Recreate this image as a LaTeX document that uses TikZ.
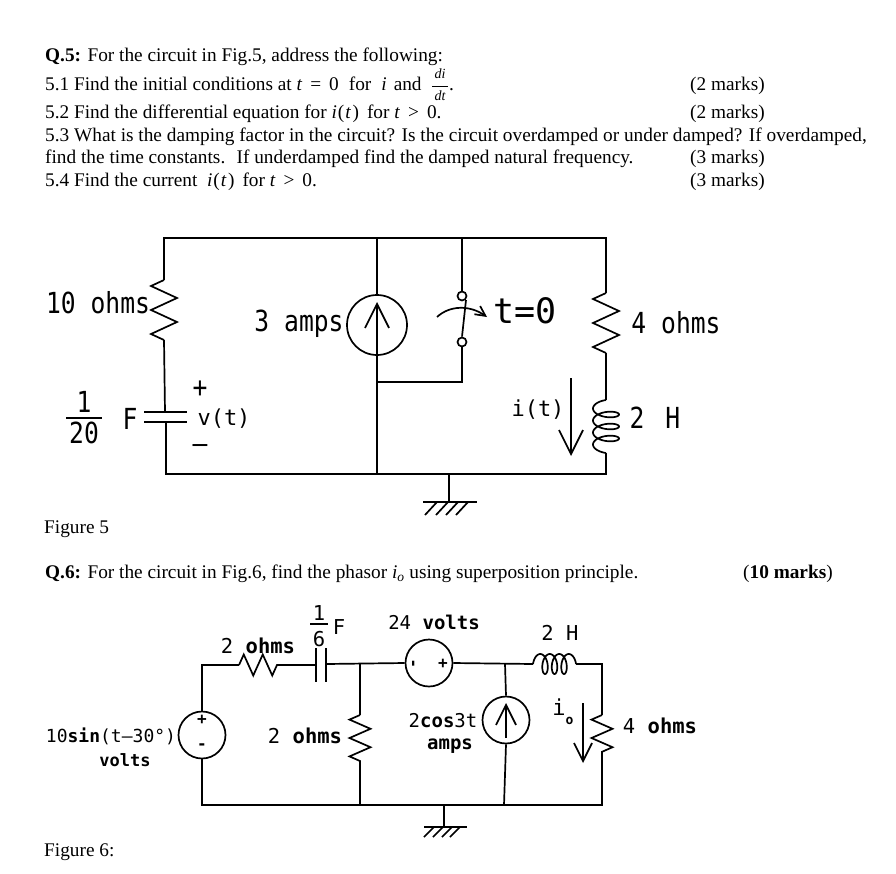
\documentclass[tikz,border=0pt]{standalone}
\usepackage{fontspec}
\setmainfont{Liberation Serif}
\newfontfamily\cadfont{DejaVu Sans Mono}
\newfontfamily\cadtall[FakeStretch=0.85]{DejaVu Sans Mono}
\newcommand{\tvar}{\textit{t}}
\newcommand{\ivar}{\textit{i}}
\newcommand{\ifunc}{\ivar\kern1pt(\kern1pt\tvar\kern1.5pt)}
\newcommand{\relgap}{\hspace{8pt}}
\usetikzlibrary{calc,arrows.meta,decorations.pathmorphing}
\tikzset{
    textline/.style={anchor=base west, inner sep=0pt, font=\fontsize{19.3}{21}\selectfont},
    fracpart/.style={inner sep=0pt, font=\fontsize{14}{14}\selectfont\itshape},
    biglabel/.style={inner sep=0pt, font=\cadtall\fontsize{29}{31}\selectfont},
    midlabel/.style={inner sep=0pt, font=\cadfont\fontsize{22}{24}\selectfont},
    smalllabel/.style={inner sep=0pt, font=\cadfont\fontsize{20.5}{22}\selectfont},
    tightlabel/.style={inner sep=0pt, font=\cadfont\fontsize{19}{20}\selectfont},
    signlabel/.style={inner sep=0pt, font=\cadfont\bfseries\fontsize{16}{16}\selectfont},
    wire/.style={draw=black, line width=1.7pt},
    thinrule/.style={draw=black, line width=0.8pt},
    resv/.style={wire, decorate, decoration={zigzag, segment length=24, amplitude=13, mirror}},
    resvs/.style={wire, decorate, decoration={zigzag, segment length=18.4, amplitude=10.5, mirror}},
    resh/.style={wire, decorate, decoration={zigzag, segment length=19, amplitude=10.5}},
    srcnode/.style={circle, draw=black, line width=1.7pt, inner sep=0pt},
    termnode/.style={circle, draw=black, line width=1.7pt, inner sep=0pt, minimum size=9pt},
    barb/.style={wire, -{Straight Barb[length=#1, width=#1, line width=1.7pt]}}
}
\begin{document}
\begin{tikzpicture}[x=1pt, y=-1pt]
    \useasboundingbox (0,0) rectangle (896,873);

    % Questions
    \node[textline] (qfive) at (45,61) {\textbf{Q.5:} For the circuit in Fig.5, address the following:};
    \node[textline] (lineone) at (45,90) {5.1 Find the initial conditions at \tvar\relgap=\relgap 0\hspace{10pt}for\hspace{10pt}\ivar\hspace{7pt}and};
    \node[fracpart] (fracdi) at (440,74) {di};
    \node[fracpart] (fracdt) at (440,96) {dt};
    \draw[thinrule] (432,86) -- (448,86);
    \node[textline] (fracdot) at (449,90) {.};
    \node[textline] (linetwo) at (45,118) {5.2 Find the differential equation for \ifunc\hspace{8pt}for \tvar\relgap>\relgap 0.};
    \node[textline] (linethree) at (45,141) {5.3 What is the damping factor in the circuit? Is the circuit overdamped or under damped? If overdamped,};
    \node[textline] (linefour) at (45,163) {find the time constants. \ If underdamped find the damped natural frequency.};
    \node[textline] (linefive) at (45,186) {5.4 Find the current \ \ifunc\hspace{8pt}for \tvar\relgap>\relgap 0.};
    \node[textline] (markone) at (690,90) {(2 marks)};
    \node[textline] (marktwo) at (690,118) {(2 marks)};
    \node[textline] (markfour) at (690,163) {(3 marks)};
    \node[textline] (markfive) at (690,186) {(3 marks)};
    \node[textline] (capfive) at (44,533) {Figure 5};
    \node[textline] (qsix) at (45,578) {\textbf{Q.6:} For the circuit in Fig.6, find the phasor \textit{i\textsubscript{o}} using superposition principle.};
    \node[textline] (marksix) at (743,578) {(\textbf{10 marks})};
    \node[textline] (capsix) at (44,856) {Figure 6:};

    % Figure 5: points
    \coordinate (atl) at (164,238);
    \coordinate (atm) at (377,238);
    \coordinate (ats) at (462,238);
    \coordinate (atr) at (606,238);
    \coordinate (abl) at (166,474);
    \coordinate (abm) at (377,474);
    \coordinate (abg) at (449,474);
    \coordinate (abr) at (606,474);
    \coordinate (rtena) at (164,280);
    \coordinate (rtenb) at (164,340);
    \coordinate (ctop) at (165,412);
    \coordinate (cbot) at (166,422);
    \coordinate (rfoura) at (606,293);
    \coordinate (rfourb) at (606,353);
    \coordinate (lta) at (606,400);
    \coordinate (ltb) at (606,453);
    \coordinate (swb) at (462,382);
    \coordinate (swm) at (377,382);
    \coordinate (gfive) at (449,502);
    \node[srcnode, minimum size=60pt] (amps) at (377,325) {};
    \node[termnode] (swt) at (462,296) {};
    \node[termnode] (swl) at (462,342) {};

    % Figure 5: wires
    \draw[wire] (rtena) -- (atl) -- (atr) -- (rfoura);
    \draw[resv] (rtena) -- (rtenb);
    \draw[wire] (rtenb) -- (ctop);
    \draw[wire] (144,412) -- (187,412);
    \draw[wire] (144,422) -- (187,422);
    \draw[wire] (cbot) -- (abl) -- (abr) -- (ltb);
    \draw[wire] (atm) -- (amps.north);
    \draw[wire] (amps.south) -- (abm);
    \draw[barb=24pt] (amps.south) -- (377,302);
    \draw[wire] (ats) -- (swt.north);
    \draw[wire] (swl.south) -- (swb) -- (swm);
    \draw[wire] (swl.north) -- (466,300);
    \draw[barb=10pt] (437,317) .. controls (450,305) and (470,305) .. (487,317);
    \draw[resv] (rfoura) -- (rfourb);
    \draw[wire] (rfourb) -- (lta);
    % coil drawn as a trochoid
    \draw[wire] plot[domain=0:1260, samples=120, smooth, variable=\t]
        ({606-13*sin(\t)}, {405.5+\t*12/360-5.5*cos(\t)});
    \draw[barb=24pt] (571,378) -- (571,456);
    \draw[wire] (abg) -- (gfive);
    \draw[wire] ($(gfive)+(-26,0)$) -- ($(gfive)+(28,0)$);
    \foreach \dx in {-12,-1,9,19} {
        \draw[wire] ($(gfive)+(\dx,0)$) -- ($(gfive)+(\dx-12,13)$);
    }

    % Figure 5: labels
    \node[biglabel] (ltenohm) at (98,303) {10 ohms};
    \node[biglabel] (lamps) at (299,324) {3 amps};
    \node[inner sep=0pt, font=\cadfont\fontsize{35}{37}\selectfont] (lswitch) at (525,311) {t=0};
    \node[biglabel] (lfourohm) at (676,323) {4 ohms};
    \node[biglabel] (lhenry) at (655,418) {2 \kern6pt H};
    \node[midlabel] (lcurrent) at (538,410) {i(t)};
    \node[biglabel] (lone) at (84,402) {1};
    \node[biglabel] (ltwenty) at (84,433) {20};
    \draw[wire] (66,418) -- (102,418);
    \node[biglabel] (lfarad) at (130,419) {F};
    \node[biglabel] (lplus) at (200,389) {+};
    \node[midlabel] (lvolt) at (224,419) {v(t)};
    \node[biglabel] (lminus) at (200,449) {–};

    % Figure 6: points
    \coordinate (btl) at (202,665);
    \coordinate (bbl) at (202,805);
    \coordinate (bbr) at (602,805);
    \coordinate (btr) at (602,664);
    \coordinate (rtwoa) at (239,665);
    \coordinate (rtwob) at (286,665);
    \coordinate (cleft) at (316,665);
    \coordinate (cright) at (326,664);
    \coordinate (bjl) at (360,664);
    \coordinate (bbj) at (360,805);
    \coordinate (rshua) at (360,715);
    \coordinate (rshub) at (360,761);
    \coordinate (bjr) at (505,664);
    \coordinate (bbs) at (504,805);
    \coordinate (lha) at (533,664);
    \coordinate (lhb) at (576,664);
    \coordinate (rloada) at (602,715);
    \coordinate (rloadb) at (602,760);
    \coordinate (bbg) at (444,805);
    \coordinate (gsix) at (444,827);
    \node[srcnode, minimum size=47pt] (vsin) at (202,735) {};
    \node[srcnode, minimum size=47pt] (vdc) at (429,663) {};
    \node[srcnode, minimum size=47pt] (icos) at (506,720) {};

    % Figure 6: wires
    \draw[wire] (vsin.north) -- (btl) -- (rtwoa);
    \draw[resh] (rtwoa) -- (rtwob);
    \draw[wire] (rtwob) -- (cleft);
    \draw[wire] (316,648) -- (316,682);
    \draw[wire] (326,648) -- (326,682);
    \draw[wire] (cright) -- (vdc.west);
    \draw[wire] (vdc.east) -- (lha);
    \draw[wire] plot[domain=0:1260, samples=120, smooth, variable=\t]
        ({537.9+\t*9.5/360-4.9*cos(\t)}, {664-10*sin(\t)});
    \draw[wire] (lhb) -- (btr) -- (rloada);
    \draw[resvs] (rloada) -- (rloadb);
    \draw[wire] (rloadb) -- (bbr) -- (bbl) -- (vsin.south);
    \draw[wire] (bjl) -- (rshua);
    \draw[resvs] (rshua) -- (rshub);
    \draw[wire] (rshub) -- (bbj);
    \draw[wire] (bjr) -- (icos.north);
    \draw[wire] (icos.south) -- (bbs);
    \draw[barb=20pt] (506,738) -- (icos.north |- 0,703);
    \draw[barb=18pt] (583,703) -- (583,763);
    \draw[wire] (bbg) -- (gsix);
    \draw[wire] ($(gsix)+(-20,0)$) -- ($(gsix)+(23,0)$);
    \foreach \dx in {-10,-1,8,16} {
        \draw[wire] ($(gsix)+(\dx,0)$) -- ($(gsix)+(\dx-10,10)$);
    }

    % Figure 6: labels
    \node[smalllabel] (ltwoohm) at (258,646) {2 \textbf{ohms}};
    \node[smalllabel] (lonesix) at (319,613) {1};
    \node[smalllabel] (lsix) at (319,639) {6};
    \draw[wire] (310,624) -- (328,624);
    \node[smalllabel] (lfaradb) at (339,627) {F};
    \node[tightlabel] (ltwofour) at (434,622) {24 \textbf{volts}};
    \node[smalllabel] (lhenryb) at (560,633) {2 H};
    \node[inner sep=0pt, font=\cadfont\fontsize{18}{20}\selectfont] (lsin) at (111,736) {10\textbf{sin}(t–30°)};
    \node[inner sep=0pt, font=\cadfont\fontsize{17}{18}\selectfont] (lvolts) at (125,760) {\textbf{volts}};
    \node[smalllabel] (lshunt) at (305,736) {2 \textbf{ohms}};
    \node[tightlabel, text height=11pt, text depth=0pt] (lcos) at (443,722) {2\textbf{cos}3t};
    \node[tightlabel, text height=11pt, text depth=3pt] (lcosb) at (450,745) {\textbf{amps}};
    \node[midlabel] (lio) at (563,712) {i\raisebox{-9pt}{\bfseries\fontsize{13}{13}\selectfont o}};
    \node[smalllabel] (lfourb) at (660,726) {4 \textbf{ohms}};
    \node[signlabel] (lsinp) at (202,720) {+};
    \node[signlabel] (lsinm) at (202,747) {-};
    \node[signlabel, rotate=90] (ldcm) at (415,664) {-};
    \node[signlabel] (ldcp) at (443,664) {+};
\end{tikzpicture}
\end{document}
